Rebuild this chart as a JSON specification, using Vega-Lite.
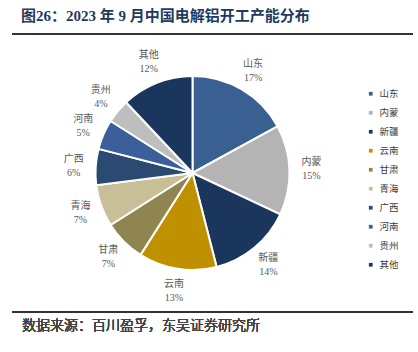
{
  "$schema": "https://vega.github.io/schema/vega-lite/v6.json",
  "autosize": {"type": "none"},
  "width": 401,
  "height": 278,
  "padding": {"left": 12, "top": 34, "right": 5, "bottom": 40},
  "background": "white",
  "config": {"view": {"stroke": null}, "font": "Noto Sans CJK SC"},
  "title": {
    "text": "图26：2023 年 9 月中国电解铝开工产能分布",
    "anchor": "start",
    "dx": 10,
    "offset": 9,
    "fontSize": 15,
    "fontWeight": "bold",
    "color": "#1F3A5F",
    "font": "Liberation Serif, Noto Sans CJK SC",
    "limit": 0
  },
  "data": {
    "values": [
      {"n": 1, "region": "山东", "value": 0.17},
      {"n": 2, "region": "内蒙", "value": 0.15},
      {"n": 3, "region": "新疆", "value": 0.14},
      {"n": 4, "region": "云南", "value": 0.13},
      {"n": 5, "region": "甘肃", "value": 0.07},
      {"n": 6, "region": "青海", "value": 0.07},
      {"n": 7, "region": "广西", "value": 0.06},
      {"n": 8, "region": "河南", "value": 0.05},
      {"n": 9, "region": "贵州", "value": 0.04},
      {"n": 10, "region": "其他", "value": 0.12}
    ]
  },
  "layer": [
    {
      "mark": {"type": "arc", "outerRadius": 97, "stroke": "white", "strokeWidth": 2, "xOffset": -20},
      "encoding": {
        "theta": {"field": "value", "type": "quantitative", "stack": true},
        "color": {
          "field": "region",
          "type": "nominal",
          "sort": null,
          "scale": {
            "domain": ["山东", "内蒙", "新疆", "云南", "甘肃", "青海", "广西", "河南", "贵州", "其他"],
            "range": ["#3A5F91", "#B4B4B4", "#1B365D", "#BF9000", "#8E8550", "#C8BF96", "#2A4A72", "#3A5F9A", "#BEBEBE", "#1B365D"]
          },
          "legend": {
            "title": null,
            "orient": "none",
            "legendX": 354,
            "legendY": 55,
            "symbolType": "square",
            "symbolSize": 14,
            "symbolStrokeWidth": 0,
            "labelFontSize": 9.5,
            "labelColor": "#404040",
            "rowPadding": 8,
            "labelOffset": 4
          }
        },
        "order": {"field": "n", "type": "quantitative"}
      }
    },
    {
      "mark": {"type": "text", "radius": 119, "xOffset": -20, "dy": -7, "fontSize": 10, "color": "#595959"},
      "encoding": {
        "theta": {"field": "value", "type": "quantitative", "stack": true},
        "order": {"field": "n", "type": "quantitative"},
        "text": {"field": "region"}
      }
    },
    {
      "mark": {"type": "text", "radius": 119, "xOffset": -20, "dy": 7, "fontSize": 10, "color": "#595959", "font": "Liberation Serif"},
      "encoding": {
        "theta": {"field": "value", "type": "quantitative", "stack": true},
        "order": {"field": "n", "type": "quantitative"},
        "text": {"field": "value", "format": ".0%"}
      }
    },
    {
      "mark": {"type": "rule", "color": "#333333", "strokeWidth": 2},
      "encoding": {"x": {"value": 0}, "x2": {"value": "width"}, "y": {"value": 0}}
    },
    {
      "mark": {"type": "rule", "color": "#333333", "strokeWidth": 1.5},
      "encoding": {"x": {"value": 0}, "x2": {"value": "width"}, "y": {"value": "height"}}
    },
    {
      "mark": {"type": "text", "align": "left", "baseline": "middle", "fontSize": 14, "fontWeight": 300, "letterSpacing": 3.3, "color": "#444444", "dx": 10, "dy": 14},
      "encoding": {"x": {"value": 0}, "y": {"value": "height"}, "text": {"value": "数据来源：百川盈孚，东吴证券研究所"}}
    }
  ]
}
